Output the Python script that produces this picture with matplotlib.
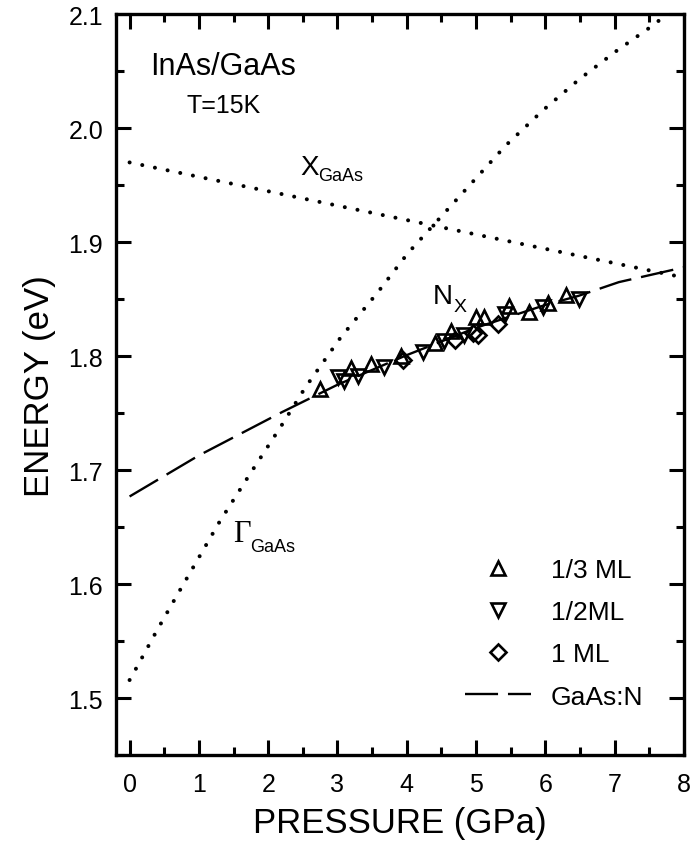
import matplotlib
matplotlib.use("Agg")
import matplotlib.pyplot as plt
from matplotlib.ticker import MultipleLocator, FormatStrFormatter

plt.rcParams['font.family'] = ['Liberation Sans', 'DejaVu Sans']

# Gamma-point band edge of GaAs (dotted curve)
gamma_p = [0.0, 0.12, 0.39, 0.70, 1.30, 1.74, 2.20, 2.54, 3.04, 3.58, 4.01, 5.43, 5.97, 6.49, 7.03, 7.57, 7.75]
gamma_e = [1.516, 1.529, 1.559, 1.592, 1.655, 1.697, 1.740, 1.773, 1.816, 1.856, 1.890, 1.985, 2.016, 2.043, 2.068, 2.091, 2.100]

# X-point band edge of GaAs (dotted line)
xband_p = [0.0, 5.46, 8.0]
xband_e = [1.970, 1.901, 1.869]

# Nitrogen level in GaAs:N (dashed curve)
gaasn_p = [0.0, 1.0, 2.2, 3.0, 4.0, 5.0, 6.0, 6.48, 7.06, 8.0]
gaasn_e = [1.677, 1.713, 1.751, 1.775, 1.801, 1.825, 1.845, 1.853, 1.865, 1.878]

# Photoluminescence peak energies
ml13_p = [2.75, 3.19, 3.48, 3.91, 4.40, 4.64, 5.00, 5.12, 5.48, 5.77, 6.04, 6.30]
ml13_e = [1.771, 1.790, 1.793, 1.800, 1.812, 1.822, 1.834, 1.834, 1.844, 1.839, 1.847, 1.854]

ml12_p = [3.01, 3.10, 3.29, 3.67, 4.23, 4.54, 4.83, 5.41, 5.97, 6.49]
ml12_e = [1.782, 1.778, 1.783, 1.791, 1.804, 1.813, 1.819, 1.837, 1.843, 1.850]

ml1_p = [3.95, 4.70, 4.95, 5.03, 5.32]
ml1_e = [1.797, 1.814, 1.820, 1.819, 1.828]

fig = plt.figure(figsize=(6.93, 8.45), dpi=100)
ax = fig.add_axes([0.167, 0.105, 0.820, 0.877])

dot_kw = dict(color='black', lw=2.9, dash_capstyle='round')
ln_g, = ax.plot(gamma_p, gamma_e, **dot_kw)
ln_g.set_dashes((0.01, 3.2))
ln_x, = ax.plot(xband_p, xband_e, **dot_kw)
ln_x.set_dashes((0.01, 3.2))

ln_n, = ax.plot(gaasn_p, gaasn_e, color='black', lw=1.7, label='GaAs:N')
ln_n.set_dashes((14, 4.2))

mk = dict(linestyle='none', markerfacecolor='none', markeredgecolor='black',
          markeredgewidth=1.9, markersize=10.5)
h13, = ax.plot(ml13_p, ml13_e, marker='^', label='1/3 ML', **mk)
h12, = ax.plot(ml12_p, ml12_e, marker='v', label='1/2ML', **mk)
h1, = ax.plot(ml1_p, ml1_e, marker='D', label='1 ML', **dict(mk, markersize=8.5))

ax.set_xlim(-0.2, 8.0)
ax.set_ylim(1.45, 2.1)
ax.xaxis.set_major_locator(MultipleLocator(1))
ax.xaxis.set_minor_locator(MultipleLocator(0.5))
ax.yaxis.set_major_locator(MultipleLocator(0.1))
ax.yaxis.set_minor_locator(MultipleLocator(0.05))
ax.yaxis.set_major_formatter(FormatStrFormatter('%.1f'))

ax.tick_params(which='both', direction='in', top=True, right=True, width=2.2, labelsize=18)
ax.tick_params(axis='x', which='major', length=11, pad=12)
ax.tick_params(axis='y', which='major', length=11, pad=9)
ax.tick_params(which='minor', length=6)
for s in ax.spines.values():
    s.set_linewidth(2.4)

ax.set_xlabel('PRESSURE (GPa)', fontsize=25, labelpad=7)
ax.set_ylabel('ENERGY (eV)', fontsize=25, labelpad=9)

ax.text(1.35, 2.055, 'InAs/GaAs', fontsize=22, ha='center', va='center')
ax.text(1.35, 2.02, 'T=15K', fontsize=18, ha='center', va='center')

ax.text(2.46, 1.96, 'X', fontsize=20, ha='left', va='baseline')
ax.text(2.72, 1.955, 'GaAs', fontsize=13, ha='left', va='baseline')

ax.text(4.38, 1.847, 'N', fontsize=20, ha='left', va='baseline')
ax.text(4.68, 1.840, 'X', fontsize=14, ha='left', va='baseline')

ax.text(1.49, 1.638, '\u0393', fontsize=22, ha='left', va='baseline', family='Liberation Serif')
ax.text(1.74, 1.629, 'GaAs', fontsize=13, ha='left', va='baseline')

leg = ax.legend(handles=[h13, h12, h1, ln_n], loc='lower right',
                bbox_to_anchor=(0.97, 0.031), frameon=False, fontsize=19,
                numpoints=1, handlelength=2.5, handletextpad=0.75,
                labelspacing=0.69, markerscale=0.9)

fig.savefig('out.png', dpi=100)
